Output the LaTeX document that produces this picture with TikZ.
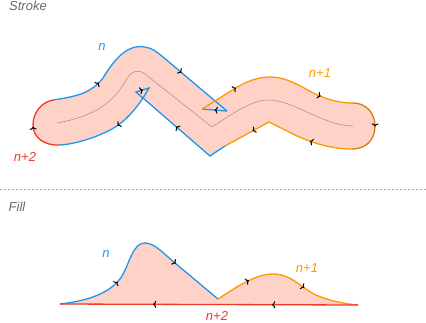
\documentclass[tikz,border=0pt]{standalone}
\usepackage{fontspec}
\setmainfont{Liberation Sans}
\usetikzlibrary{arrows.meta, decorations.markings}

\definecolor{nblue}{RGB}{30,150,240}
\definecolor{norange}{RGB}{255,152,0}
\definecolor{nred}{RGB}{240,55,40}
\definecolor{capbrown}{RGB}{205,128,20}
\definecolor{fillpink}{RGB}{255,210,200}
\definecolor{labelgray}{RGB}{105,105,105}

% outline pieces of the stroked path
\newcommand{\edgeNtop}{(53,100) .. controls (80,96) and (92,92) .. (103,78)
  .. controls (115,58) and (128,44) .. (145,47) .. controls (152,48) and (157,52) .. (163,57) -- (227,111)}
\newcommand{\edgeNjoin}{(227,111) -- (202,109)}
\newcommand{\edgeMtop}{(202,109) -- (234,89) .. controls (247,81) and (258,77) .. (270,77)
  .. controls (290,77) and (305,90) .. (320,96) .. controls (332,101) and (342,103) .. (353,103)}
\newcommand{\edgeMcap}{(353,103) .. controls (366,103) and (375,113) .. (375,126)
  .. controls (375,140) and (366,149) .. (352,149)}
\newcommand{\edgeMbot}{(352,149) .. controls (330,149) and (310,142) .. (295,135)
  .. controls (285,130) and (275,125) .. (269,122) -- (225,146)}
\newcommand{\edgeNbot}{(225,146) -- (210,156) -- (136,92) -- (149,88)
  .. controls (140,104) and (128,120) .. (112,129) .. controls (95,138) and (75,144) .. (60,145)}
\newcommand{\edgeLcap}{(60,145) .. controls (45,146) and (33,138) .. (33,125)
  .. controls (33,112) and (42,102) .. (53,100)}
% outline pieces of the filled path
\newcommand{\fillN}{(60,304) .. controls (95,300) and (113,290) .. (122,276)
  .. controls (130,262) and (133,243) .. (145,243) .. controls (155,243) and (165,255) .. (175,263) -- (218,299)}
\newcommand{\fillM}{(218,299) .. controls (235,288) and (255,274) .. (273,274)
  .. controls (290,274) and (300,286) .. (312,293) .. controls (325,300) and (345,304) .. (358,305)}
\newcommand{\fillL}{(358,305) -- (60,304)}

\begin{document}
\begin{tikzpicture}[
  x=1pt, y=-1pt,
  edge/.style={line width=1.3pt, line join=miter},
  midtip/.style={postaction={decorate, decoration={markings,
      mark=at position #1 with {\arrow[black, line width=1pt]{To[length=3.2pt, width=7pt]}}}}},
  lbl/.style={font=\fontsize{13}{15}\selectfont\itshape, inner sep=0pt},
  centre/.style={draw={rgb,255:red,160;green,140;blue,140}, line width=0.5pt},
]
  \useasboundingbox (0,0) rectangle (426,322);

  % Stroke
  \node[lbl, text=labelgray] (strokelbl) at (28,6) {Stroke};
  \fill[fillpink] \edgeNtop -- \edgeNjoin -- \edgeMtop -- \edgeMcap -- \edgeMbot
    -- \edgeNbot -- \edgeLcap -- cycle;
  \draw[centre] (57,123) .. controls (85,118) and (110,108) .. (125,82)
    .. controls (130,72) and (137,68) .. (145,74) -- (212,127)
    .. controls (232,114) and (252,100) .. (268,100) .. controls (295,100) and (320,125) .. (353,126);

  \draw[edge, nblue, midtip=50pt, midtip=157pt] \edgeNtop;
  \draw[edge, nblue, midtip=0.5] \edgeNjoin;
  \draw[edge, nblue, midtip=63pt, midtip=123pt, midtip=179pt] \edgeNbot;
  \draw[edge, norange, midtip=40pt, midtip=131pt] \edgeMtop;
  \draw[edge, norange, midtip=43pt, midtip=107pt] \edgeMbot;
  \draw[edge, capbrown, midtip=0.5] \edgeMcap;
  \draw[edge, nred, midtip=0.5] \edgeLcap;

  \node[lbl, text=nblue]   (sn)  at (102,47) {n};
  \node[lbl, text=norange] (sn1) at (320,73) {n+1};
  \node[lbl, text=nred]    (sn2) at (25,157) {n+2};

  % separator
  \coordinate (sepl) at (0,189);
  \coordinate (sepr) at (426,189);
  \draw[gray!70, line width=1pt, dash pattern=on 2pt off 2pt] (sepl) -- (sepr);

  % Fill
  \node[lbl, text=labelgray] (filllbl) at (17,207) {Fill};
  \fill[fillpink] \fillN -- \fillM -- cycle;
  \draw[edge, nblue, midtip=63pt, midtip=150pt] \fillN;
  \draw[edge, norange, midtip=36pt, midtip=96pt] \fillM;
  \draw[edge, nred, midtip=86pt, midtip=205pt] \fillL;

  \node[lbl, text=nblue]   (fn)  at (106,254) {n};
  \node[lbl, text=norange] (fn1) at (307,268) {n+1};
  \node[lbl, text=nred]    (fn2) at (217,316) {n+2};
\end{tikzpicture}
\end{document}
